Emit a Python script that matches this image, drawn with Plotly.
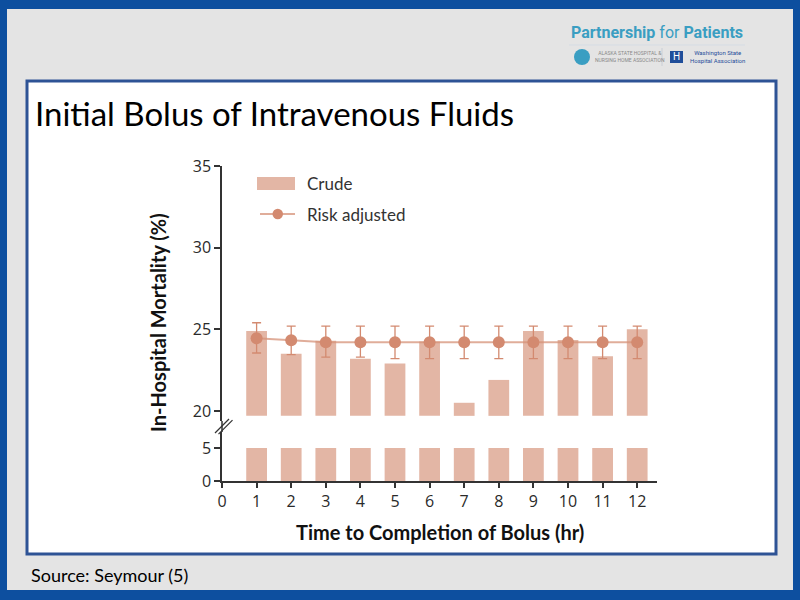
import plotly.graph_objects as go

# ---------------- data ----------------
hours = [1, 2, 3, 4, 5, 6, 7, 8, 9, 10, 11, 12]
crude = [24.9, 23.5, 24.3, 23.2, 22.9, 24.25, 20.5, 21.9, 24.9, 24.35, 23.35, 25.0]
risk_adjusted = [24.45, 24.33, 24.2, 24.2, 24.2, 24.2, 24.2, 24.2, 24.2, 24.2, 24.2, 24.2]
ci_upper = [25.4, 25.2, 25.2, 25.2, 25.2, 25.2, 25.2, 25.2, 25.2, 25.2, 25.2, 25.2]
ci_lower = [23.55, 23.45, 23.3, 23.3, 23.2, 23.2, 23.2, 23.2, 23.2, 23.2, 23.2, 23.2]
lower_segment_top = 5          # bars shown in the broken lower segment
upper_segment_base = 19.7      # bars restart just under 20 above the break
x_ticks = list(range(0, 13))
y_upper_ticks = [20, 25, 30, 35]
y_lower_ticks = [0, 5]

# ---------------- geometry helpers ----------------
W, H = 800, 600
L, R, T, B = 222, 143, 166, 119
PW, PH = W - L - R, H - T - B


def px(x):
    return (x - L) / PW


def py(y):
    return (H - B - y) / PH


BAR = "#E3B6A5"
PT = "#D38A70"
LINE = "rgba(214,145,120,0.75)"
AX = "#333333"
TXT = "#2a2a2a"

upper_bottom_px, lower_top_px = 421, 432
upper_scale = 16.33
lower_scale = 6.6

fig = go.Figure()

fig.add_trace(go.Bar(x=hours, y=[lower_segment_top] * len(hours), width=0.6,
                     marker=dict(color=BAR, line=dict(width=0)),
                     xaxis="x", yaxis="y", showlegend=False))
fig.add_trace(go.Bar(x=hours, y=[c - upper_segment_base for c in crude],
                     base=upper_segment_base, width=0.6,
                     marker=dict(color=BAR, line=dict(width=0)),
                     xaxis="x", yaxis="y2", showlegend=False))
fig.add_trace(go.Scatter(x=hours, y=risk_adjusted, mode="lines+markers",
                         line=dict(color=LINE, width=2),
                         marker=dict(color=PT, size=12),
                         error_y=dict(type="data", symmetric=False,
                                      array=[u - v for u, v in zip(ci_upper, risk_adjusted)],
                                      arrayminus=[v - l for v, l in zip(risk_adjusted, ci_lower)],
                                      color=PT, thickness=1.3, width=4.5),
                         xaxis="x", yaxis="y2", showlegend=False))

tickfont = dict(family="Open Sans", size=16, color=TXT)

fig.update_layout(
    width=W, height=H,
    margin=dict(l=L, r=R, t=T, b=B, autoexpand=False),
    template="none",
    paper_bgcolor="#0D4F9F",
    plot_bgcolor="rgba(0,0,0,0)",
    barmode="overlay",
    showlegend=False,
    xaxis=dict(domain=[0, 1], range=[0, PW / 34.6], anchor="y",
               tickvals=x_ticks, ticks="outside", ticklen=5, tickwidth=1.5,
               tickcolor=AX, showline=True, linecolor=AX, linewidth=1.5,
               showgrid=False, zeroline=False, tickfont=tickfont, automargin=False),
    yaxis=dict(domain=[0, py(lower_top_px)], range=[0, (H - B - lower_top_px) / lower_scale],
               tickvals=y_lower_ticks, ticks="outside", ticklen=6, tickwidth=1.5,
               tickcolor=AX, showline=True, linecolor=AX, linewidth=1.5,
               showgrid=False, zeroline=False, tickfont=tickfont, automargin=False),
    yaxis2=dict(domain=[py(upper_bottom_px), 1],
                range=[35 - (upper_bottom_px - T) / upper_scale, 35],
                anchor="x", tickvals=y_upper_ticks, ticks="outside", ticklen=6, tickwidth=1.5,
                tickcolor=AX, showline=True, linecolor=AX, linewidth=1.5,
                showgrid=False, zeroline=False, tickfont=tickfont, automargin=False),
)

shapes = []
# slide background
shapes.append(dict(type="rect", xref="paper", yref="paper", layer="below",
                   x0=px(7), x1=px(793), y0=py(590), y1=py(9),
                   fillcolor="#E4E4E4", line=dict(width=0)))
shapes.append(dict(type="rect", xref="paper", yref="paper", layer="below",
                   x0=px(27), x1=px(776), y0=py(554), y1=py(81),
                   fillcolor="white", line=dict(color="#2E5395", width=3)))
# axis continuation + break marks
shapes.append(dict(type="line", xref="paper", yref="paper",
                   x0=0, x1=0, y0=py(lower_top_px), y1=py(upper_bottom_px),
                   line=dict(color=AX, width=1.5)))
for dx in (0, 3.5):
    shapes.append(dict(type="line", xref="paper", yref="paper",
                       x0=px(215 + dx), x1=px(229 + dx), y0=py(433 + dx * 0.3), y1=py(419 + dx * 0.3),
                       line=dict(color=AX, width=1.2)))
# legend
shapes.append(dict(type="rect", xref="paper", yref="paper",
                   x0=px(257), x1=px(295), y0=py(190), y1=py(177),
                   fillcolor=BAR, line=dict(width=0)))
shapes.append(dict(type="line", xref="paper", yref="paper",
                   x0=px(260), x1=px(295), y0=py(214), y1=py(214),
                   line=dict(color=LINE, width=2)))
shapes.append(dict(type="circle", xref="paper", yref="paper",
                   x0=px(272.5), x1=px(283), y0=py(219.3), y1=py(208.8),
                   fillcolor=PT, line=dict(width=0)))
# logo pieces
shapes.append(dict(type="line", xref="paper", yref="paper",
                   x0=px(569), x1=px(745), y0=py(45), y1=py(45),
                   line=dict(color="#D5DCE4", width=1)))
shapes.append(dict(type="circle", xref="paper", yref="paper",
                   x0=px(574), x1=px(590), y0=py(65), y1=py(49),
                   fillcolor="#3A9EC2", line=dict(width=0)))
shapes.append(dict(type="line", xref="paper", yref="paper",
                   x0=px(662), x1=px(662), y0=py(66), y1=py(48),
                   line=dict(color="#C8CED6", width=1)))
shapes.append(dict(type="rect", xref="paper", yref="paper",
                   x0=px(670), x1=px(683), y0=py(63), y1=py(51),
                   fillcolor="#1F4E9A", line=dict(width=0)))
fig.update_layout(shapes=shapes)


def ann(text, x, y, size, family="Lato", color="#000", xanchor="left", yanchor="middle", **kw):
    fig.add_annotation(text=text, x=px(x), y=py(y), xref="paper", yref="paper",
                       showarrow=False, xanchor=xanchor, yanchor=yanchor,
                       font=dict(family=family, size=size, color=color), **kw)


ann("Initial Bolus of Intravenous Fluids", 33, 113, 33)
ann("Source: Seymour (5)", 29, 575, 18)
ann("Crude", 305, 183, 17, color="#333")
ann("Risk adjusted", 305, 214, 17, color="#333")
ann("<b>Time to Completion of Bolus (hr)</b>", 440, 532, 20, color="#111", xanchor="center")
ann("<b>In-Hospital Mortality (%)</b>", 158, 323, 20, color="#111", xanchor="center",
    textangle=-90)
ann("<b>Partnership</b> for <b>Patients</b>", 569, 32, 16, family="Roboto", color="#3A9EC2")
ann("ALASKA STATE HOSPITAL &amp;<br>NURSING HOME ASSOCIATION", 593, 57, 5, family="Roboto",
    color="#888")
ann("H", 676.5, 57, 10, family="Roboto", color="white", xanchor="center")
ann("Washington State<br>Hospital Association", 688, 57, 6, family="Roboto", color="#1F4E9A")

fig.write_html("out.html")
